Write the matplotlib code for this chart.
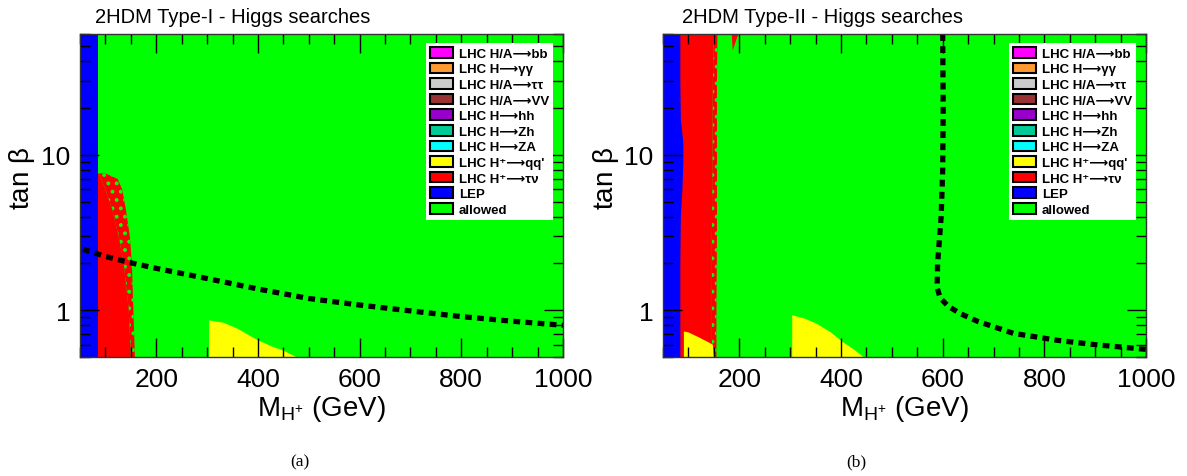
import matplotlib
matplotlib.use('Agg')
import matplotlib.pyplot as plt
from matplotlib.patches import Patch
from matplotlib.ticker import FixedLocator, NullFormatter
import numpy as np

plt.rcParams['font.family'] = ['Liberation Sans', 'DejaVu Sans']
plt.rcParams['mathtext.fontset'] = 'custom'
plt.rcParams['mathtext.rm'] = 'Liberation Sans'
plt.rcParams['mathtext.it'] = 'Liberation Sans:italic'
plt.rcParams['mathtext.bf'] = 'Liberation Sans:bold'
plt.rcParams['hatch.linewidth'] = 1.6

# axis ranges
m_range = (50, 1000)
tb_range = (0.5, 60)

# legend entries
legend_labels = ['LHC H/A⟶bb', 'LHC H⟶γγ', 'LHC H/A⟶ττ', 'LHC H/A⟶VV', 'LHC H⟶hh',
                 'LHC H⟶Zh', 'LHC H⟶ZA', 'LHC H⁺⟶qq\'', 'LHC H⁺⟶τν',
                 'LEP', 'allowed']
legend_colors = ['#ff00ff', '#ff9933', '#cccccc', '#993333', '#9900cc',
                 '#00cc99', '#00ffff', '#ffff00', '#ff0000', '#0000ff', '#00ff00']

# ---- Type-I regions ----
t1_lep_tb = [0.5, 60]
t1_lep_m = [85, 85]
t1_red_tb = [0.5, 1.0, 2.0, 3.0, 4.5, 6.0, 7.0, 7.6]
t1_red_core = [150, 146, 136, 126, 113, 100, 92, 86]
t1_red_outer = [158, 155, 152, 148, 140, 133, 124, 100]
t1_yel_m = [304, 304, 333, 360, 400, 430, 450, 475]
t1_yel_tb = [0.5, 0.86, 0.83, 0.76, 0.64, 0.58, 0.55, 0.5]
t1_line_m = [56, 100, 150, 200, 300, 400, 500, 600, 700, 800, 900, 1000]
t1_line_tb = [2.47, 2.22, 2.02, 1.86, 1.6, 1.37, 1.19, 1.08, 0.99, 0.91, 0.85, 0.80]

# ---- Type-II regions ----
t2_lep_tb = [0.5, 1.0, 2.0, 4.0, 6.0, 9.0, 12.0, 17.0, 30.0, 60.0]
t2_lep_m = [83, 83, 83, 84, 87, 89, 89, 84, 83, 83]
t2_red_tb = [0.5, 1.0, 3.0, 10.0, 30.0, 60.0]
t2_red_core = [146, 146, 146, 147, 148, 150]
t2_red_outer = [155, 155, 156, 156, 156, 157]
t2_sliver_m = [185, 198, 187]
t2_sliver_tb = [60, 60, 47]
t2_yel1_m = [91, 91, 100, 120, 140, 148, 150]
t2_yel1_tb = [0.5, 0.73, 0.72, 0.67, 0.62, 0.6, 0.5]
t2_yel2_m = [304, 304, 330, 352, 380, 402, 425, 444]
t2_yel2_tb = [0.5, 0.93, 0.88, 0.82, 0.72, 0.63, 0.56, 0.5]
t2_line_m = [600, 601, 600, 597, 590, 589, 595, 611, 635, 668, 739, 826, 900, 1000]
t2_line_tb = [60, 20, 8, 4, 2.0, 1.4, 1.2, 1.06, 0.95, 0.85, 0.71, 0.64, 0.60, 0.56]


def style_axes(ax):
    ax.set_xlim(*m_range)
    ax.set_ylim(*tb_range)
    ax.set_yscale('log')
    ax.set_facecolor('#00ff00')
    ax.xaxis.set_major_locator(FixedLocator([200, 400, 600, 800, 1000]))
    ax.xaxis.set_minor_locator(FixedLocator(np.arange(50, 1001, 50)))
    ax.yaxis.set_major_locator(FixedLocator([1, 10]))
    ax.yaxis.set_minor_locator(FixedLocator([0.5, 0.6, 0.7, 0.8, 0.9, 2, 3, 4, 5, 6, 7, 8, 9,
                                             20, 30, 40, 50, 60]))
    ax.yaxis.set_minor_formatter(NullFormatter())
    ax.set_yticklabels(['1', '10'])
    ax.tick_params(which='both', direction='in', top=True, right=True, labelsize=19, pad=7)
    ax.tick_params(which='major', length=14, width=1)
    ax.tick_params(which='minor', length=7, width=1)
    for s in ax.spines.values():
        s.set_linewidth(1.0)
        s.set_color('#333333')
    ax.set_xlabel(r'M$_{\mathregular{H^{+}}}$ (GeV)', fontsize=20, labelpad=2)
    handles = [Patch(facecolor=c, edgecolor='black', linewidth=1.5) for c in legend_colors]
    leg = ax.legend(handles, legend_labels, loc='upper right', bbox_to_anchor=(0.979, 0.972),
                    borderaxespad=0, fancybox=False, framealpha=1, edgecolor='white',
                    prop={'weight': 'bold', 'size': 9.5}, handlelength=1.75, handleheight=0.85,
                    handletextpad=0.4, labelspacing=0.21, borderpad=0.3)
    leg.get_frame().set_linewidth(0)
    leg.set_zorder(10)


def fringe(ax, tb, core, outer):
    ax.fill_betweenx(tb, core, outer, facecolor='#ff0000', edgecolor='#00ff00',
                     hatch='..', linewidth=0)
    ax.fill_betweenx(tb, m_range[0], core, facecolor='#ff0000', linewidth=0)


fig = plt.figure(figsize=(11.87, 4.77), dpi=100)
ax1 = fig.add_axes([0.0674, 0.2495, 0.4069, 0.677])
ax2 = fig.add_axes([0.5586, 0.2495, 0.4069, 0.677])

# Type-I
fringe(ax1, t1_red_tb, t1_red_core, t1_red_outer)
ax1.fill_betweenx(t1_lep_tb, m_range[0], t1_lep_m, color='#0000ff', linewidth=0)
ax1.fill(t1_yel_m, t1_yel_tb, color='#ffff00', linewidth=0)
ax1.plot(t1_line_m, t1_line_tb, color='black', lw=3.8, dashes=(1.3, 1.0))

# Type-II
fringe(ax2, t2_red_tb, t2_red_core, t2_red_outer)
ax2.fill(t2_sliver_m, t2_sliver_tb, color='#ff0000', linewidth=0)
ax2.fill_betweenx(t2_lep_tb, m_range[0], t2_lep_m, color='#0000ff', linewidth=0)
ax2.fill(t2_yel1_m, t2_yel1_tb, color='#ffff00', linewidth=0)
ax2.fill(t2_yel2_m, t2_yel2_tb, color='#ffff00', linewidth=0)
ax2.plot(t2_line_m, t2_line_tb, color='black', lw=3.8, dashes=(1.3, 1.0))

for ax in (ax1, ax2):
    style_axes(ax)

fig.text(0.08, 0.963, '2HDM Type-I - Higgs searches', fontsize=14.5, va='center', ha='left')
fig.text(0.5745, 0.963, '2HDM Type-II - Higgs searches', fontsize=14.5, va='center', ha='left')
fig.text(0.0185, 0.625, r'tan $\mathregular{\beta}$', fontsize=20, rotation=90, ha='center', va='center')
fig.text(0.5105, 0.625, r'tan $\mathregular{\beta}$', fontsize=20, rotation=90, ha='center', va='center')
fig.text(0.2527, 0.031, '(a)', fontsize=12.5, family='Liberation Serif', ha='center', va='center')
fig.text(0.7212, 0.031, '(b)', fontsize=12.5, family='Liberation Serif', ha='center', va='center')

fig.savefig('out.png', dpi=100)
